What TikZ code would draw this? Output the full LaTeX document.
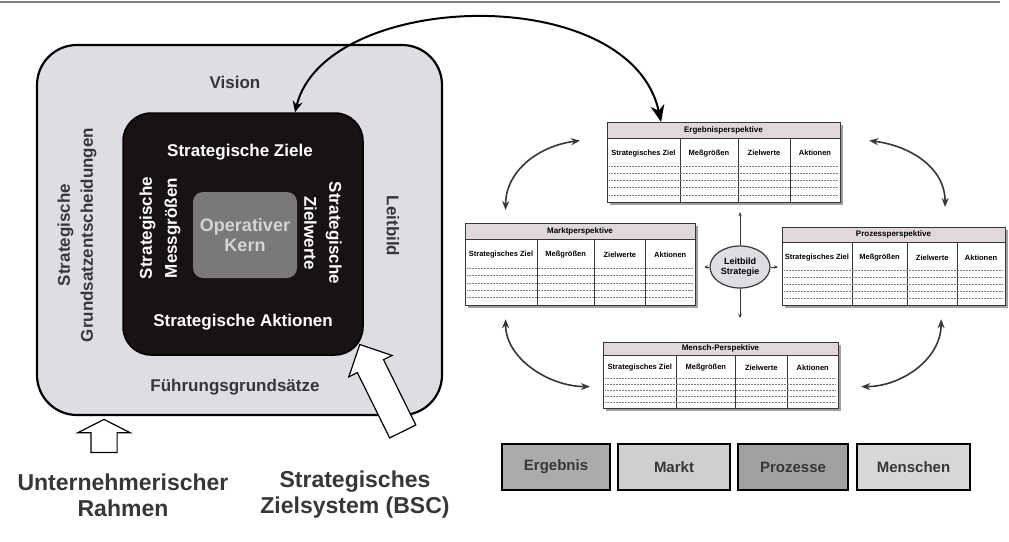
\documentclass[tikz,border=0pt]{standalone}
\usepackage{fontspec}
\setmainfont{Liberation Sans}
\usetikzlibrary{arrows.meta,shapes.geometric,shapes.arrows}

\definecolor{rahmengrau}{RGB}{222,221,226}
\definecolor{zielschwarz}{RGB}{24,18,18}
\definecolor{kerngrau}{RGB}{122,120,122}
\definecolor{kernschrift}{RGB}{212,212,212}
\definecolor{textgrau}{RGB}{55,55,55}
\definecolor{kopfgrau}{RGB}{224,216,220}
\definecolor{schattengrau}{RGB}{160,160,160}

\tikzset{
  randtext/.style={text=textgrau, font=\fontsize{17}{23}\selectfont\bfseries, align=center},
  zieltext/.style={text=white, font=\fontsize{17}{25}\selectfont\bfseries, align=center},
  tabkopf/.style={font=\fontsize{8}{9}\selectfont\bfseries},
  tabspalte/.style={font=\fontsize{7.5}{9}\selectfont\bfseries},
  blockpfeil/.style={single arrow, draw=black, fill=white, line width=1.2pt, inner xsep=0pt},
  grossbogen/.style={line width=2pt, {Stealth[length=11pt,width=10pt]}-{Stealth[length=17pt,width=14pt]}},
  tabbogen/.style={line width=1.6pt, textgrau, {Stealth[length=9pt,width=7pt]}-{Stealth[length=9pt,width=7pt]}},
  kleinpfeil/.style={line width=.8pt, textgrau, -{Stealth[length=4pt,width=3.5pt]}},
  perspbox/.style={draw=black, line width=2.5pt, minimum height=46pt, text=textgrau,
    font=\fontsize{15}{17}\selectfont\bfseries}
}

% Tabelle einer Perspektive: Name, x, y, Breite, Hoehe, Titel
\newcommand{\persptab}[6]{%
  \begin{scope}[shift={(#2,#3)}]
    \fill[schattengrau] (3,3) rectangle (#4+3,#5+3);
    \fill[white] (0,0) rectangle (#4,#5);
    \fill[kopfgrau] (0,0) rectangle (#4,0.2*#5);
    \draw[textgrau, line width=.8pt] (0,0.2*#5) -- (#4,0.2*#5);
    \foreach \f in {0.313,0.562,0.785}
      \draw[textgrau, line width=.6pt] (\f*#4,0.2*#5) -- (\f*#4,#5);
    \foreach \r in {0.55,0.64,0.73,0.82,0.91}
      \draw[gray, densely dotted, line width=.5pt] (2,\r*#5) -- (#4-2,\r*#5);
    \node[tabkopf] at (0.5*#4,0.1*#5) {#6};
    \node[tabspalte] at (0.1565*#4,0.39*#5) {Strategisches Ziel};
    \node[tabspalte] at (0.4375*#4,0.39*#5) {Meßgrößen};
    \node[tabspalte] at (0.6735*#4,0.39*#5) {Zielwerte};
    \node[tabspalte] at (0.8925*#4,0.39*#5) {Aktionen};
    \node[draw=textgrau, line width=1.2pt, minimum width=#4pt, minimum height=#5pt,
      anchor=north west, inner sep=0pt] (#1) at (0,0) {};
  \end{scope}}

\begin{document}
\begin{tikzpicture}[x=1pt, y=-1pt]
  \useasboundingbox[fill=white] (0,0) rectangle (1009,541);
  \draw[gray, line width=1.5pt] (0,2) -- (1000,2);

  % linke Seite
  \node[draw=black, line width=2.2pt, fill=rahmengrau, rounded corners=40pt,
    minimum width=405pt, minimum height=370pt] (rahmen) at (239.5,230) {};
  \node[draw=black, line width=1.5pt, fill=zielschwarz, rounded corners=28pt,
    minimum width=240pt, minimum height=242pt] (zielbox) at (243,234) {};
  \node[fill=kerngrau, rounded corners=10pt, minimum width=104pt, minimum height=86pt,
    text=kernschrift, font=\fontsize{18}{20}\selectfont\bfseries, align=center]
    (kern) at (245,235) {Operativer\\Kern};

  \node[randtext] (vision) at (235,82) {Vision};
  \node[randtext] (fuehrung) at (235,387) {Führungsgrundsätze};
  \node[randtext, rotate=90] (grundsatz) at (77,235) {Strategische\\Grundsatzentscheidungen};
  \node[randtext, rotate=-90] (leitbild) at (393,226) {Leitbild};

  \node[zieltext] (ziele) at (240,152) {Strategische Ziele};
  \node[zieltext] (aktionen) at (243,322) {Strategische Aktionen};
  \node[zieltext, rotate=90] (messgr) at (160,228) {Strategische\\Messgrößen};
  \node[zieltext, rotate=-90] (zielwerte) at (323,233) {Strategische\\Zielwerte};

  \node[blockpfeil, rotate=90, anchor=tail, minimum height=33pt, inner ysep=12.5pt,
    single arrow head extend=13pt, single arrow tip angle=126] (rahmenpfeil) at (104,453) {};
  \node[blockpfeil, rotate=116.3, anchor=tail, minimum height=97pt, inner ysep=14pt,
    single arrow head extend=9.5pt, single arrow tip angle=90] (bscpfeil) at (403,432) {};

  \node[text=textgrau, font=\fontsize{23}{26}\selectfont\bfseries, align=center]
    (rahmenlabel) at (123,495) {Unternehmerischer\\Rahmen};
  \node[text=textgrau, font=\fontsize{23}{26}\selectfont\bfseries, align=center]
    (bsclabel) at (355,495) {Strategisches\\Zielsystem (BSC)};

  % rechte Seite
  \persptab{ergebnis}{607}{122}{233}{80}{Ergebnisperspektive}
  \persptab{markt}{465}{223}{230}{82}{Marktperspektive}
  \persptab{prozess}{782}{227}{223}{78}{Prozessperspektive}
  \persptab{mensch}{603}{342}{235}{66}{Mensch-Perspektive}

  \node[ellipse, draw=textgrau, fill=rahmengrau, line width=1.2pt, minimum width=60pt,
    minimum height=42pt, inner sep=0pt, font=\fontsize{9}{10}\selectfont\bfseries,
    align=center] (leitstrat) at (740,267) {Leitbild\\Strategie};

  \draw[kleinpfeil, shorten >=9pt] (leitstrat.north) -- (leitstrat.north |- ergebnis.south);
  \draw[kleinpfeil, shorten >=8pt] (leitstrat.west) -- (leitstrat.west -| markt.east);
  \draw[kleinpfeil, shorten >=4pt] (leitstrat.east) -- (leitstrat.east -| prozess.west);
  \draw[kleinpfeil, shorten >=24pt] (leitstrat.south) -- (leitstrat.south |- mensch.north);

  \draw[tabbogen] ([xshift=-27pt,yshift=22pt]ergebnis.west) .. controls +(-40,5) and +(0,-40)
    .. ([xshift=-75pt,yshift=13pt]markt.north);
  \draw[tabbogen] ([xshift=28pt,yshift=22pt]ergebnis.east) .. controls +(40,5) and +(0,-40)
    .. ([xshift=51pt,yshift=20pt]prozess.north);
  \draw[tabbogen] ([xshift=-75pt,yshift=-13pt]markt.south) .. controls +(0,40) and +(-40,0)
    .. ([xshift=-13pt,yshift=-11pt]mensch.west);
  \draw[tabbogen] ([xshift=47pt,yshift=-13pt]prozess.south) .. controls +(0,40) and +(40,0)
    .. ([xshift=22pt,yshift=-11pt]mensch.east);

  \draw[grossbogen] ([xshift=52pt]zielbox.north) .. controls (325,-10) and (630,-20)
    .. ([xshift=-63pt]ergebnis.north);

  \node[perspbox, fill={rgb,255:red,172;green,170;blue,172}, minimum width=108pt] (ergbox) at (556,467) {Ergebnis};
  \node[perspbox, fill={rgb,255:red,208;green,206;blue,208}, minimum width=112pt] (marktbox) at (674,467) {Markt};
  \node[perspbox, fill={rgb,255:red,162;green,160;blue,162}, minimum width=110pt] (prozbox) at (793,467) {Prozesse};
  \node[perspbox, fill={rgb,255:red,216;green,214;blue,216}, minimum width=113pt] (menschbox) at (913.5,467) {Menschen};
\end{tikzpicture}
\end{document}
